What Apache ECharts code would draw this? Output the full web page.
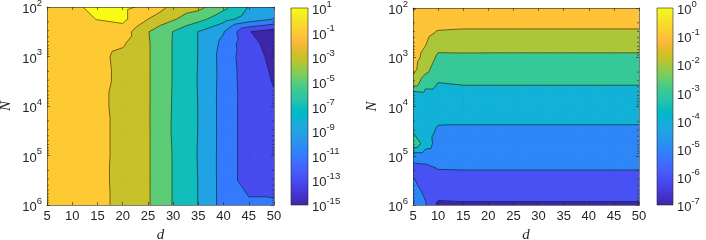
<!DOCTYPE html>
<html><head><meta charset="utf-8">
<script src="https://cdn.jsdelivr.net/npm/echarts@6/dist/echarts.min.js"></script>
<style>html,body{margin:0;padding:0;background:#fff}#c{width:706px;height:240px}</style>
</head><body><div id="c"></div>
<script>
// ================= DATA =================
// Left panel: grid of d values and log10(N) rows, value = log10(error)
const dLeft = [5, 10, 15, 20, 25, 30, 35, 40, 45, 50];
const logNLeft = [2, 2.25, 2.5, 2.75, 3, 3.5, 4, 4.5, 5, 5.5, 6];
const errLeft = [
  [0.2, 0.7, 1.4, 1.5, 0.5, -1.5, -2.4, -4.5, -7.1, -8.2],
  [0.2, 0.3, 1.05, 1.5, -1.02, -2.8, -4.4, -6.3, -8.0, -9.1],
  [0.1, 0.0, 0.0, 0.0, -2.9, -5.05, -7.05, -8.9, -12.9, -14.0],
  [0.0, -0.1, -0.3, -0.8, -2.8, -5.1, -7.05, -9.5, -12.5, -13.6],
  [0.0, -0.2, -0.5, -1.5, -2.8, -5.1, -7.05, -9.75, -12.3, -13.4],
  [0.0, -0.2, -0.5, -1.4, -2.8, -5.1, -7.1, -9.7, -12.1, -13.1],
  [0.0, -0.2, -0.5, -1.6, -2.8, -5.15, -7.05, -9.75, -12.0, -12.7],
  [0.0, -0.2, -0.5, -1.5, -2.8, -5.2, -7.05, -9.75, -12.0, -12.6],
  [0.0, -0.2, -0.5, -1.5, -2.8, -5.1, -7.1, -9.75, -12.0, -12.5],
  [0.0, -0.2, -0.5, -1.55, -2.8, -5.1, -7.05, -9.75, -12.0, -12.3],
  [0.0, -0.2, -0.5, -1.5, -2.8, -5.1, -7.05, -9.75, -10.5, -10.5]
];
const levelsLeft = [-15, -13, -11, -9, -7, -5, -3, -1, 1];

// Right panel
const dRight = [5, 7.5, 10, 15, 20, 25, 30, 35, 40, 45, 50];
const logNRight = [2, 2.25, 2.5, 2.75, 3, 3.25, 3.5, 3.75, 4, 4.25, 4.5, 4.75, 5, 5.25, 5.5, 5.75, 6];
const errRight = [
  [-1.1, -0.2, -0.1, -0.1, -0.1, -0.1, -0.1, -0.1, -0.1, -0.1, -0.1],
  [-0.5, -0.4, -0.55, -0.6, -0.6, -0.6, -0.6, -0.6, -0.6, -0.6, -0.6],
  [-0.45, -0.7, -1.1, -1.17, -1.17, -1.17, -1.17, -1.17, -1.17, -1.17, -1.17],
  [-0.5, -0.98, -1.7, -1.7, -1.71, -1.71, -1.71, -1.71, -1.71, -1.71, -1.71],
  [-0.6, -1.3, -2.18, -2.16, -2.16, -2.16, -2.16, -2.16, -2.16, -2.16, -2.16],
  [-0.7, -1.7, -2.58, -2.54, -2.54, -2.54, -2.54, -2.54, -2.54, -2.54, -2.54],
  [-1.3, -2.6, -2.98, -2.91, -2.91, -2.91, -2.91, -2.91, -2.91, -2.91, -2.91],
  [-3.5, -3.3, -3.28, -3.24, -3.24, -3.24, -3.24, -3.24, -3.24, -3.24, -3.24],
  [-3.6, -3.4, -3.57, -3.55, -3.55, -3.55, -3.55, -3.55, -3.55, -3.55, -3.55],
  [-3.4, -3.5, -3.86, -3.86, -3.86, -3.86, -3.86, -3.86, -3.86, -3.86, -3.86],
  [-3.1, -3.6, -4.13, -4.15, -4.15, -4.15, -4.15, -4.15, -4.15, -4.15, -4.15],
  [-2.2, -3.5, -4.4, -4.41, -4.41, -4.41, -4.41, -4.41, -4.41, -4.41, -4.41],
  [-4.6, -4.6, -4.68, -4.67, -4.67, -4.67, -4.67, -4.67, -4.67, -4.67, -4.67],
  [-5.3, -5.2, -4.96, -4.94, -4.94, -4.94, -4.94, -4.94, -4.94, -4.94, -4.94],
  [-4.9, -5.4, -5.33, -5.31, -5.31, -5.31, -5.31, -5.31, -5.31, -5.31, -5.31],
  [-4.5, -5.2, -5.74, -5.71, -5.71, -5.71, -5.71, -5.71, -5.71, -5.71, -5.71],
  [-4.3, -4.9, -6.15, -6.11, -6.11, -6.11, -6.11, -6.11, -6.11, -6.11, -6.11]
];
const levelsRight = [-7, -6, -5, -4, -3, -2, -1, 0];

// axis ticks
const xTicks = [5, 10, 15, 20, 25, 30, 35, 40, 45, 50];
const yTickExp = [2, 3, 4, 5, 6];
const cbLeftExp = [-15, -13, -11, -9, -7, -5, -3, -1, 1];
const cbRightExp = [-7, -6, -5, -4, -3, -2, -1, 0];

// ================= COLORMAP (parula) =================
const PARULA = [
[0.2422,0.1504,0.6603],[0.2504,0.1650,0.7076],[0.2578,0.1818,0.7511],[0.2647,0.1978,0.7952],
[0.2706,0.2147,0.8364],[0.2751,0.2342,0.8710],[0.2783,0.2559,0.8991],[0.2803,0.2782,0.9221],
[0.2813,0.3006,0.9414],[0.2810,0.3228,0.9579],[0.2795,0.3447,0.9717],[0.2760,0.3667,0.9829],
[0.2699,0.3892,0.9906],[0.2602,0.4123,0.9952],[0.2440,0.4358,0.9988],[0.2206,0.4603,0.9973],
[0.1963,0.4847,0.9892],[0.1834,0.5074,0.9798],[0.1786,0.5289,0.9682],[0.1764,0.5499,0.9520],
[0.1687,0.5703,0.9359],[0.1540,0.5902,0.9218],[0.1460,0.6091,0.9079],[0.1380,0.6276,0.8973],
[0.1248,0.6459,0.8883],[0.1113,0.6635,0.8763],[0.0952,0.6798,0.8598],[0.0689,0.6948,0.8394],
[0.0297,0.7082,0.8163],[0.0036,0.7203,0.7917],[0.0067,0.7312,0.7660],[0.0433,0.7411,0.7394],
[0.0964,0.7500,0.7120],[0.1408,0.7584,0.6842],[0.1717,0.7670,0.6554],[0.1938,0.7758,0.6251],
[0.2161,0.7843,0.5923],[0.2470,0.7918,0.5567],[0.2906,0.7973,0.5188],[0.3406,0.8008,0.4789],
[0.3909,0.8029,0.4354],[0.4456,0.8024,0.3909],[0.5044,0.7993,0.3480],[0.5616,0.7942,0.3045],
[0.6174,0.7876,0.2612],[0.6720,0.7793,0.2227],[0.7242,0.7698,0.1910],[0.7738,0.7598,0.1646],
[0.8203,0.7498,0.1535],[0.8634,0.7406,0.1596],[0.9035,0.7330,0.1774],[0.9393,0.7288,0.2100],
[0.9728,0.7298,0.2394],[0.9956,0.7434,0.2371],[0.9970,0.7659,0.2199],[0.9952,0.7893,0.2028],
[0.9892,0.8136,0.1885],[0.9786,0.8386,0.1766],[0.9676,0.8639,0.1643],[0.9610,0.8890,0.1537],
[0.9597,0.9135,0.1423],[0.9628,0.9373,0.1265],[0.9691,0.9606,0.1064],[0.9769,0.9839,0.0805]];
function parula(t) {
  t = Math.max(0, Math.min(1, t));
  const f = t * (PARULA.length - 1), i = Math.floor(f), j = Math.min(i + 1, PARULA.length - 1), u = f - i;
  const c = PARULA[i].map((v, k) => Math.round((v + (PARULA[j][k] - v) * u) * 255));
  return 'rgb(' + c.join(',') + ')';
}

// ================= CONTOURING (filled, painter's order) =================
function clipAbove(poly, level) {
  const out = [];
  for (let i = 0; i < poly.length; i++) {
    const a = poly[i], b = poly[(i + 1) % poly.length];
    const ia = a[2] >= level, ib = b[2] >= level;
    if (ia) out.push(a);
    if (ia !== ib) {
      const t = (level - a[2]) / (b[2] - a[2]);
      out.push([a[0] + t * (b[0] - a[0]), a[1] + t * (b[1] - a[1]), level]);
    }
  }
  return out;
}
function buildContour(xs, ys, Z, levels) {
  const cmin = levels[0], cmax = levels[levels.length - 1];
  const col = L => parula((L - cmin) / (cmax - cmin));
  const layers = [[]].concat(levels.map(() => [])); // layer 0 = everything, layer k = z >= levels[k-1]
  const colors = [parula(0)].concat(levels.map(col));
  const segs = [];
  for (let i = 0; i < ys.length - 1; i++) {
    for (let j = 0; j < xs.length - 1; j++) {
      const P = (ii, jj) => [xs[jj], ys[ii], Z[ii][jj]];
      const tris = [[P(i, j), P(i, j + 1), P(i + 1, j + 1)], [P(i, j), P(i + 1, j + 1), P(i + 1, j)]];
      for (const tri of tris) {
        layers[0].push(tri.map(p => [p[0], p[1]]));
        levels.forEach((L, k) => {
          const poly = clipAbove(tri, L);
          if (poly.length >= 3) layers[k + 1].push(poly.map(p => [p[0], p[1]]));
          const pts = [];
          for (let e = 0; e < 3; e++) {
            const a = tri[e], b = tri[(e + 1) % 3];
            const da = a[2] - L, db = b[2] - L;
            if ((da < 0) !== (db < 0)) {
              const t = da / (da - db);
              pts.push([a[0] + t * (b[0] - a[0]), a[1] + t * (b[1] - a[1])]);
            }
          }
          if (pts.length === 2) segs.push(pts);
        });
      }
    }
  }
  return { layers, colors, segs };
}
const contourLeft = buildContour(dLeft, logNLeft, errLeft, levelsLeft);
const contourRight = buildContour(dRight, logNRight, errRight, levelsRight);

function contourRender(ct) {
  return function (params, api) {
    const children = [];
    ct.layers.forEach((layer, k) => {
      const c = ct.colors[k];
      for (const p of layer) {
        children.push({ type: 'polygon', shape: { points: p.map(q => api.coord(q)) },
          style: { fill: c, stroke: c, lineWidth: 0.9 } });
      }
    });
    for (const s of ct.segs) {
      const a = api.coord(s[0]), b = api.coord(s[1]);
      children.push({ type: 'line', shape: { x1: a[0], y1: a[1], x2: b[0], y2: b[1] },
        style: { stroke: 'rgba(0,0,0,0.9)', lineWidth: 0.6 } });
    }
    return { type: 'group', children };
  };
}

// minor log ticks (axis decoration)
const minorVals = [];
for (let k = 2; k < 6; k++) for (let m = 2; m <= 9; m++) minorVals.push(k + Math.log10(m));
function minorRender(params, api) {
  const v = api.value(1);
  const a = api.coord([5, v]), b = api.coord([50, v]);
  const st = { stroke: '#262626', lineWidth: 0.6 };
  return { type: 'group', children: [
    { type: 'line', shape: { x1: a[0], y1: a[1], x2: a[0] + 2, y2: a[1] }, style: st },
    { type: 'line', shape: { x1: b[0] - 2, y1: b[1], x2: b[0], y2: b[1] }, style: st }
  ] };
}

function colorbarRender(yMin, yMax) {
  return function (params, api) {
    const p1 = api.coord([0, yMax]), p2 = api.coord([1, yMin]);
    const stops = PARULA.map((c, i) => ({ offset: 1 - i / (PARULA.length - 1),
      color: 'rgb(' + c.map(v => Math.round(v * 255)).join(',') + ')' })).reverse();
    return { type: 'rect', shape: { x: p1[0], y: p1[1], width: p2[0] - p1[0], height: p2[1] - p1[1] },
      style: { fill: { type: 'linear', x: 0, y: 0, x2: 0, y2: 1, colorStops: stops },
        stroke: '#262626', lineWidth: 0.6 } };
  };
}

// ================= OPTION =================
const TXT = '#262626';
const FONT = 'Liberation Sans';
const rich = {
  b: { fontSize: 13, fontFamily: FONT, color: TXT, lineHeight: 18, verticalAlign: 'bottom' },
  s: { fontSize: 9.5, fontFamily: FONT, color: TXT, lineHeight: 9, verticalAlign: 'top' }
};
const lineSt = { color: TXT, width: 0.6 };
function xAx(grid, pos, labels) {
  return { gridIndex: grid, type: 'value', min: xTicks[0], max: xTicks[xTicks.length - 1], interval: xTicks[1] - xTicks[0], position: pos, z: 10,
    axisLine: { show: true, onZero: false, lineStyle: lineSt },
    axisTick: { show: true, inside: true, length: 3, lineStyle: lineSt },
    axisLabel: { show: labels, color: TXT, fontSize: 13, fontFamily: FONT, margin: 5 },
    splitLine: { show: false },
    name: labels ? 'd' : '', nameLocation: 'middle', nameGap: 19,
    nameTextStyle: { fontFamily: 'Liberation Serif', fontStyle: 'italic', fontSize: 15, color: TXT } };
}
function yAx(grid, pos, labels) {
  return { gridIndex: grid, type: 'value', min: yTickExp[0], max: yTickExp[yTickExp.length - 1], interval: 1, inverse: true, position: pos, z: 10,
    axisLine: { show: true, onZero: false, lineStyle: lineSt },
    axisTick: { show: true, inside: true, length: 3, lineStyle: lineSt },
    axisLabel: { show: labels, margin: 5, formatter: v => '{b|10}{s|' + v + '}', rich },
    splitLine: { show: false },
    name: labels ? 'N' : '', nameLocation: 'middle', nameGap: 33,
    nameTextStyle: { fontFamily: 'Liberation Serif', fontStyle: 'italic', fontSize: 15, color: TXT } };
}
function cbX(grid) { return { gridIndex: grid, type: 'value', min: 0, max: 1, show: false }; }
// colorbar axis counted from 0 so that tick interval starts at min
function cbY(grid, exps) {
  const base = exps[0], step = exps[1] - exps[0];
  return { gridIndex: grid, type: 'value', min: 0, max: exps[exps.length - 1] - base, interval: step, position: 'right', z: 10,
    axisLine: { show: false }, axisTick: { show: false }, splitLine: { show: false },
    axisLabel: { margin: 4, formatter: v => '{b|10}{s|' + Math.round(v + base) + '}', rich } };
}

const option = {
  animation: false,
  backgroundColor: '#fff',
  grid: [
    { left: 47, top: 7, width: 227, height: 198, outerBoundsMode: 'none' },
    { left: 291, top: 8, width: 17, height: 197, outerBoundsMode: 'none' },
    { left: 413, top: 8, width: 226, height: 197, outerBoundsMode: 'none' },
    { left: 657, top: 8, width: 16, height: 197, outerBoundsMode: 'none' }
  ],
  xAxis: [xAx(0, 'bottom', true), xAx(0, 'top', false), cbX(1), xAx(2, 'bottom', true), xAx(2, 'top', false), cbX(3)],
  yAxis: [yAx(0, 'left', true), yAx(0, 'right', false), cbY(1, cbLeftExp),
          yAx(2, 'left', true), yAx(2, 'right', false), cbY(3, cbRightExp)],
  series: [
    { type: 'custom', xAxisIndex: 0, yAxisIndex: 0, data: [[5, 2]], renderItem: contourRender(contourLeft), clip: true, z: 2, silent: true },
    { type: 'custom', xAxisIndex: 0, yAxisIndex: 0, data: minorVals.map(v => [5, v]), renderItem: minorRender, z: 20, silent: true },
    { type: 'custom', xAxisIndex: 2, yAxisIndex: 2, data: [[0, 0]], renderItem: colorbarRender(0, cbLeftExp[cbLeftExp.length - 1] - cbLeftExp[0]), z: 2, silent: true },
    { type: 'custom', xAxisIndex: 3, yAxisIndex: 3, data: [[5, 2]], renderItem: contourRender(contourRight), clip: true, z: 2, silent: true },
    { type: 'custom', xAxisIndex: 3, yAxisIndex: 3, data: minorVals.map(v => [5, v]), renderItem: minorRender, z: 20, silent: true },
    { type: 'custom', xAxisIndex: 5, yAxisIndex: 5, data: [[0, 0]], renderItem: colorbarRender(0, cbRightExp[cbRightExp.length - 1] - cbRightExp[0]), z: 2, silent: true }
  ]
};
const chart = echarts.init(document.getElementById('c'), null, { renderer: 'canvas' });
chart.setOption(option);
</script>
</body></html>
